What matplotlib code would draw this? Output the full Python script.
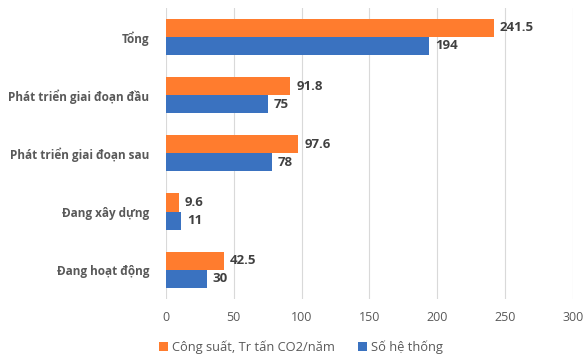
import numpy as np
import matplotlib
matplotlib.use("Agg")
import matplotlib.pyplot as plt

# du lieu doc tu hinh
categories = ["Tổng", "Phát triển giai đoạn đầu", "Phát triển giai đoạn sau",
              "Đang xây dựng", "Đang hoạt động"]
cong_suat = [241.5, 91.8, 97.6, 9.6, 42.5]
so_he_thong = [194, 75, 78, 11, 30]
xticks = [0, 50, 100, 150, 200, 250, 300]

plt.rcParams['font.family'] = ['Open Sans', 'DejaVu Sans']

orange = "#FF7C2E"
blue = "#3A72C0"
text_c = "#595959"

fig = plt.figure(figsize=(5.84, 3.57), dpi=100)
ax = fig.add_axes([0.284, 0.163, 0.697, 0.815])

y = np.arange(len(categories))
h = 0.31
b1 = ax.barh(y - h / 2, cong_suat, height=h, color=orange,
             label="Công suất, Tr tấn CO2/năm", zorder=3)
b2 = ax.barh(y + h / 2, so_he_thong, height=h, color=blue,
             label="Số hệ thống", zorder=3)

for bars, vals in [(b1, cong_suat), (b2, so_he_thong)]:
    for r, v in zip(bars, vals):
        ax.text(r.get_width() + 4.5, r.get_y() + r.get_height() / 2,
                f"{v:g}", va="center", ha="left", fontsize=9.5,
                fontweight="bold", color="#404040")

ax.set_ylim(len(categories) - 0.5, -0.5)
ax.set_xlim(0, 300)
ax.set_xticks(xticks)
ax.set_yticks(y)
ax.set_yticklabels(categories, fontsize=8.5, fontweight="bold", color=text_c)
ax.tick_params(axis="x", labelsize=9, colors=text_c, length=0, pad=9)
ax.tick_params(axis="y", length=0, pad=12)
ax.grid(axis="x", color="#D9D9D9", linewidth=0.8, zorder=0)
for s in ax.spines.values():
    s.set_visible(False)

leg = fig.legend(handles=[b1, b2], loc="center", bbox_to_anchor=(0.515, 0.027),
                 ncol=2, frameon=False, fontsize=9.3, handlelength=0.7,
                 handleheight=0.7, handletextpad=0.3, columnspacing=1.8)
for t in leg.get_texts():
    t.set_color(text_c)

fig.savefig("out.png", dpi=100)
